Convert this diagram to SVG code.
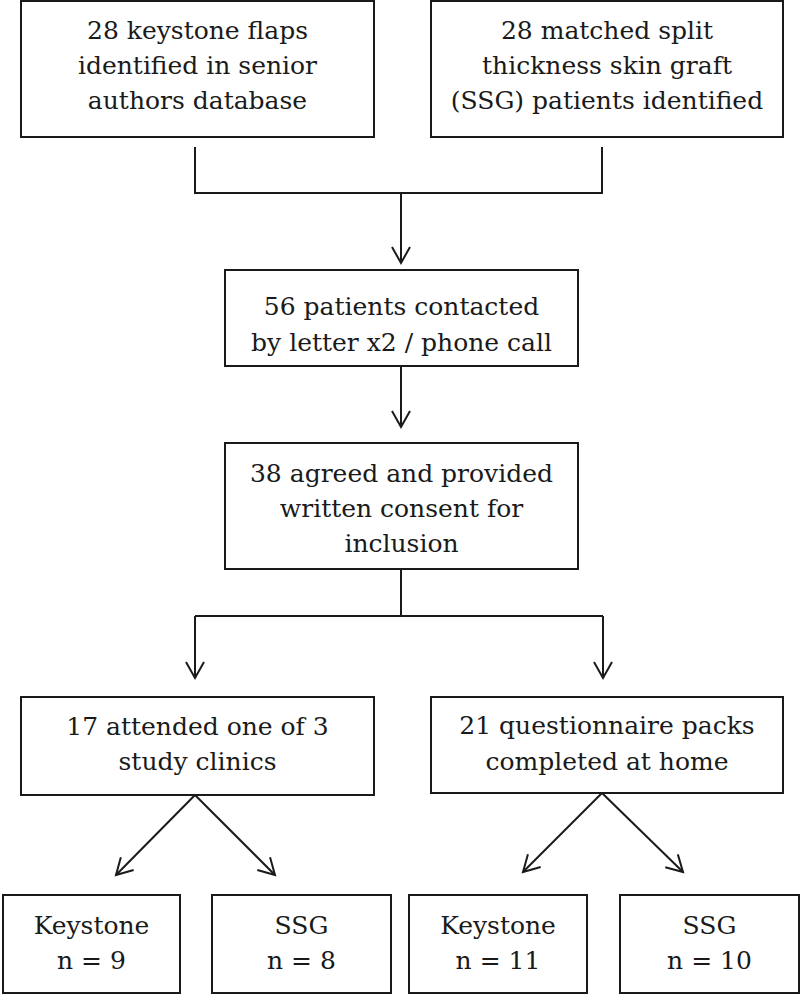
<svg xmlns="http://www.w3.org/2000/svg" width="800" height="995" viewBox="0 0 800 995">
<style>
.box{fill:#fff;stroke:#1a1a1a;stroke-width:2}
.t{font-family:"DejaVu Serif","Liberation Serif",serif;font-size:25px;fill:#1a1a1a;text-anchor:middle}
.c{fill:none;stroke:#1a1a1a;stroke-width:2}
</style>
<defs>
<marker id="arr" markerUnits="userSpaceOnUse" markerWidth="24" markerHeight="24" viewBox="-20 -12 24 24" refX="0" refY="0" orient="auto">
<path d="M-16,-9 L0,0 L-16,9" fill="none" stroke="#1a1a1a" stroke-width="2"/>
</marker>
</defs>
<rect width="800" height="995" fill="#fff"/>
<g id="connectors">
<path class="c" d="M195,147 V193 H602 V147"/>
<path class="c" d="M401,193 V263" marker-end="url(#arr)"/>
<path class="c" d="M401,366 V427" marker-end="url(#arr)"/>
<path class="c" d="M401,569 V616"/>
<path class="c" d="M195,616 H603"/>
<path class="c" d="M195,616 V678" marker-end="url(#arr)"/>
<path class="c" d="M603,616 V678" marker-end="url(#arr)"/>
<path class="c" d="M195,795 L116,875" marker-end="url(#arr)"/>
<path class="c" d="M195,795 L275,875" marker-end="url(#arr)"/>
<path class="c" d="M602,793 L523,872" marker-end="url(#arr)"/>
<path class="c" d="M602,793 L683,872" marker-end="url(#arr)"/>
</g>
<g id="n1"><rect class="box" x="21" y="1" width="353" height="136"/>
<text class="t" x="197.5" y="39">28 keystone flaps</text>
<text class="t" x="197.5" y="74">identified in senior</text>
<text class="t" x="197.5" y="109">authors database</text></g>
<g id="n2"><rect class="box" x="431" y="1" width="352" height="136"/>
<text class="t" x="607" y="39">28 matched split</text>
<text class="t" x="607" y="74">thickness skin graft</text>
<text class="t" x="607" y="109">(SSG) patients identified</text></g>
<g id="n3"><rect class="box" x="225" y="270" width="353" height="96"/>
<text class="t" x="401.5" y="315">56 patients contacted</text>
<text class="t" x="401.5" y="351">by letter x2 / phone call</text></g>
<g id="n4"><rect class="box" x="225" y="443" width="353" height="126"/>
<text class="t" x="401.5" y="482">38 agreed and provided</text>
<text class="t" x="401.5" y="517">written consent for</text>
<text class="t" x="401.5" y="552">inclusion</text></g>
<g id="n5"><rect class="box" x="21" y="697" width="353" height="98"/>
<text class="t" x="197.5" y="735">17 attended one of 3</text>
<text class="t" x="197.5" y="770">study clinics</text></g>
<g id="n6"><rect class="box" x="431" y="697" width="352" height="96"/>
<text class="t" x="607" y="734">21 questionnaire packs</text>
<text class="t" x="607" y="770">completed at home</text></g>
<g id="n7"><rect class="box" x="3" y="895" width="177" height="98"/>
<text class="t" x="91.5" y="934">Keystone</text>
<text class="t" x="91.5" y="969">n = 9</text></g>
<g id="n8"><rect class="box" x="212" y="895" width="179" height="98"/>
<text class="t" x="301.5" y="934">SSG</text>
<text class="t" x="301.5" y="969">n = 8</text></g>
<g id="n9"><rect class="box" x="409" y="895" width="178" height="98"/>
<text class="t" x="498" y="934">Keystone</text>
<text class="t" x="498" y="969">n = 11</text></g>
<g id="n10"><rect class="box" x="620" y="895" width="179" height="98"/>
<text class="t" x="709.5" y="934">SSG</text>
<text class="t" x="709.5" y="969">n = 10</text></g>
</svg>
